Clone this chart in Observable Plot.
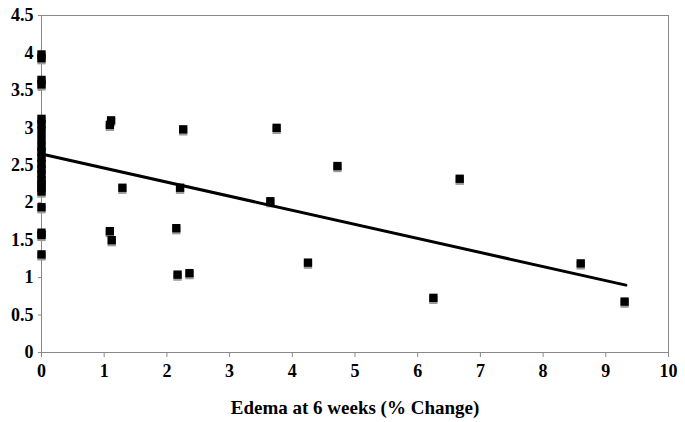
<!DOCTYPE html>
<html>
<head>
<meta charset="utf-8">
<script src="https://cdn.jsdelivr.net/npm/d3@7"></script>
<script src="https://cdn.jsdelivr.net/npm/@observablehq/plot@0.6"></script>
<style>
  body { margin: 0; background: #fff; }
  svg { display: block; }
</style>
</head>
<body>
<div id="chart"></div>
<script>
// Edema at 6 weeks (% change)
const edema = [
  0, 0, 0, 0, 0, 0, 0, 0, 0, 0, 0, 0, 0, 0, 0, 0, 0, 0, 0, 0, 0, 0,
  1.11, 1.09, 1.29, 1.09, 1.12, 2.15, 2.21, 2.26, 2.17, 2.36,
  3.65, 3.75, 4.25, 4.72, 6.25, 6.67, 8.6, 9.3
];
// outcome values (y)
const outcome = [
  3.98, 3.93, 3.64, 3.58, 3.12, 3.05, 2.96, 2.85, 2.75, 2.68, 2.6, 2.52, 2.45, 2.38, 2.3, 2.2, 2.15, 1.94, 1.6, 1.57, 1.31, 2.25,
  3.1, 3.04, 2.2, 1.62, 1.5, 1.66, 2.2, 2.98, 1.04, 1.06,
  2.02, 3.0, 1.2, 2.49, 0.73, 2.32, 1.19, 0.68
];
// trend line endpoints
const trendX = [0, 9.32];
const trendY = [2.65, 0.9];

const xTicks = [0, 1, 2, 3, 4, 5, 6, 7, 8, 9, 10];
const yTicks = [0, 0.5, 1, 1.5, 2, 2.5, 3, 3.5, 4, 4.5];
const xLabel = "Edema at 6 weeks (% Change)";

const points = edema.map((x, i) => ({x, y: outcome[i]}));
const trend = trendX.map((x, i) => ({x, y: trendY[i]}));

const font = {fontFamily: "Liberation Serif, Times New Roman, serif", fontWeight: "bold", fill: "#000"};

const chart = Plot.plot({
  width: 685,
  height: 422,
  marginLeft: 41,
  marginRight: 17,
  marginTop: 15,
  marginBottom: 70,
  style: {color: "#000"},
  x: {domain: [0, 10]},
  y: {domain: [0, 4.5]},
  marks: [
    Plot.frame({stroke: "#888"}),
    Plot.axisY({ticks: yTicks, tickSize: 3, stroke: "#888", label: null, tickFormat: () => ""}),
    Plot.axisX({ticks: xTicks, tickSize: 5, stroke: "#888", label: null, tickFormat: () => ""}),
    Plot.text(yTicks, {x: 0, y: d => d, text: d => String(d), textAnchor: "end", dx: -8, fontSize: 18, ...font}),
    Plot.text(xTicks, {x: d => d, y: 0, text: d => String(d), dy: 19, fontSize: 18, ...font}),
    Plot.text([xLabel], {x: 5, y: 0, text: d => d, dy: 55, fontSize: 19, ...font}),
    Plot.dot(points, {x: "x", y: "y", symbol: "square", r: 4.7, fill: "#999", dy: 2}),
    Plot.dot(points, {x: "x", y: "y", symbol: "square", r: 4.7, fill: "#000"}),
    Plot.line(trend, {x: "x", y: "y", stroke: "#000", strokeWidth: 3})
  ]
});
document.getElementById("chart").appendChild(chart);
</script>
</body>
</html>
